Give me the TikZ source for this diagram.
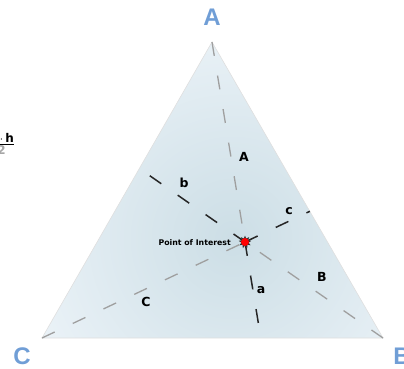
\documentclass[tikz,border=0pt]{standalone}
\usepackage{fontspec}
\setsansfont{DejaVu Sans}
\newfontfamily\labelfont{Liberation Sans}
\definecolor{vertexblue}{rgb}{0.44,0.62,0.84}
\definecolor{facein}{rgb}{0.80,0.87,0.90}
\definecolor{faceout}{rgb}{0.92,0.95,0.97}
\usetikzlibrary{shapes.geometric,positioning}

\begin{document}
\begin{tikzpicture}[
  x=1pt,y=-1pt,
  facet/.style={inner color=facein,outer color=faceout},
  rim/.style={draw=gray!25,line width=0.6pt},
  uppercut/.style={gray!75,line width=1.3pt,dash pattern=on 14pt off 20pt},
  lowercut/.style={black!85,line width=1.5pt,dash pattern=on 14pt off 20pt},
  vertexlabel/.style={font=\labelfont\fontsize{24}{26}\selectfont\bfseries,text=vertexblue,inner sep=0pt},
  seglabel/.style={font=\sffamily\fontsize{12.5}{14}\selectfont\bfseries,inner sep=0pt},
  poilabel/.style={font=\sffamily\fontsize{7.8}{9}\selectfont\bfseries,inner sep=0pt}
]
\useasboundingbox (0,0) rectangle (404,369);

% Corners of the triangle
\coordinate (A) at (212,42);
\coordinate (B) at (383,338);
\coordinate (C) at (42,338);

% Point of interest
\coordinate (P) at (245,242);

% Feet of the lines through P
\coordinate (FA) at (260.8,338);
\coordinate (FB) at (139.4,168.5);
\coordinate (FC) at (309.8,211.3);

% Shaded face, brightest round the point
\begin{scope}
  \clip (A)--(B)--(C)--cycle;
  \shade[facet] (232,238) circle (215);
\end{scope}
\draw[rim] (A)--(B)--(C)--cycle;

% Cut-off formula on the left
\node[font=\sffamily\fontsize{12}{13}\selectfont\bfseries,inner sep=0pt,anchor=east,align=center] (area)
  at (14,144) {\underline{b\,$\cdot$\,h}\\[-1pt]\textcolor{gray!70}{2}};

% Vertex to point
\draw[uppercut] (A)--(P);
\draw[uppercut] (B)--(P);
\draw[uppercut] (C)--(P);

% Point to opposite side
\draw[lowercut] (P)--(FA);
\draw[lowercut] (P)--(FB);
\draw[lowercut] (P)--(FC);

% Marker
\node[star,star points=9,star point ratio=1.8,minimum size=13pt,inner sep=0pt,fill=black!80] (mark) at (P) {};
\node[circle,fill=red,minimum size=8pt,inner sep=0pt] (dot) at (P) {};
\node[poilabel,anchor=east] (poi) at (231,243) {Point of Interest};

% Vertex labels
\node[vertexlabel] (labA) at (212,17) {A};
\node[vertexlabel] (labB) at (402,356) {B};
\node[vertexlabel] (labC) at (22,356) {C};

% Segment labels
\node[seglabel] (segA) at (244,157) {A};
\node[seglabel] (sega) at (261,290) {a};
\node[seglabel] (segb) at (184,183) {b};
\node[seglabel] (segB) at (322,277) {B};
\node[seglabel] (segc) at (289,211) {c};
\node[seglabel] (segC) at (146,302) {C};

\end{tikzpicture}
\end{document}
